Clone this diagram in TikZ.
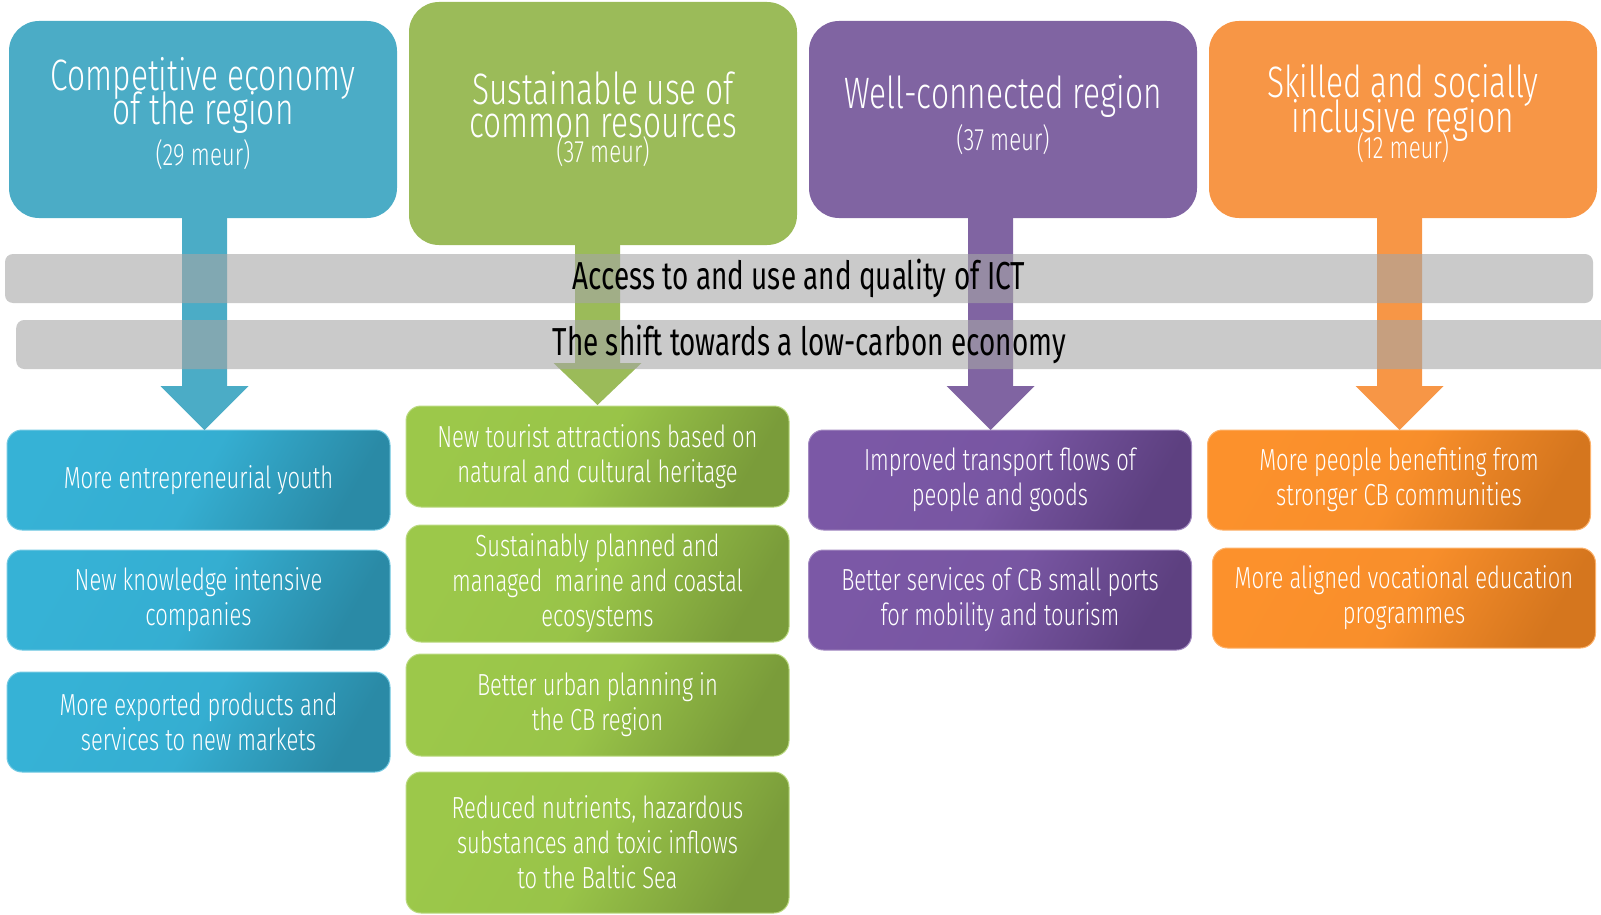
\documentclass[tikz,border=0pt]{standalone}
\usepackage{fontspec}
\setmainfont{Fira Sans Light}[FakeStretch=0.72]
\newfontfamily\bandfont{Fira Sans}[FakeStretch=0.715]
\usetikzlibrary{calc}
\definecolor{hblue}{HTML}{4BACC6}
\definecolor{hgreen}{HTML}{9BBB59}
\definecolor{hpurple}{HTML}{8064A2}
\definecolor{horange}{HTML}{F79646}
\definecolor{lblueA}{HTML}{36B2D6}
\definecolor{lblueB}{HTML}{2A8AA6}
\definecolor{lgreenA}{HTML}{9CC84A}
\definecolor{lgreenB}{HTML}{7A9C3A}
\definecolor{lpurpleA}{HTML}{7B58A6}
\definecolor{lpurpleB}{HTML}{5D4080}
\definecolor{lorangeA}{HTML}{FC912C}
\definecolor{lorangeB}{HTML}{D5761E}
\begin{document}
\begin{tikzpicture}[x=1pt,y=-1pt,
  hdr/.style={rectangle, rounded corners=30pt, inner sep=0pt, minimum width=388pt, minimum height=197pt},
  hline/.style={text=white, font=\fontsize{44}{44}\selectfont, anchor=base, inner sep=0pt, text height=24pt, text depth=0pt},
  meur/.style={text=white, font=\fontsize{31}{31}\selectfont, anchor=base, inner sep=0pt, text height=18pt, text depth=0pt},
  outbox/.style={rectangle, rounded corners=15pt, inner sep=0pt, minimum width=383pt, minimum height=100pt,
    text=white, align=center, font=\fontsize{30.5}{35}\selectfont, line width=1pt},
  ob/.style={outbox, draw=lblueA!70!white, left color=lblueA, right color=lblueB, middle color=lblueA!90!lblueB, shading angle=60},
  og/.style={outbox, draw=lgreenA!70!white, left color=lgreenA, right color=lgreenB, middle color=lgreenA!90!lgreenB, shading angle=60},
  op/.style={outbox, draw=lpurpleA!70!white, left color=lpurpleA, right color=lpurpleB, middle color=lpurpleA!90!lpurpleB, shading angle=60},
  oo/.style={outbox, draw=lorangeA!70!white, left color=lorangeA, right color=lorangeB, middle color=lorangeA!90!lorangeB, shading angle=60},
  band/.style={rectangle, rounded corners=8pt, fill=black!35, fill opacity=0.6, text opacity=1, text=black,
    inner sep=0pt, minimum height=49pt, font=\bandfont\fontsize{39}{39}\selectfont}
]
\useasboundingbox (0,0) rectangle (1601,915);

% header boxes
\node[hdr, fill=hblue] (h1) at (203,119.5) {};
\node[hdr, fill=hgreen, minimum height=243pt] (h2) at (603,123.5) {};
\node[hdr, fill=hpurple] (h3) at (1003,119.5) {};
\node[hdr, fill=horange] (h4) at (1403,119.5) {};

\node[hline] (h1a) at (203,91) {Competitive economy};
\node[hline] (h1b) at (203,125) {of the region};
\node[meur] (h1m) at (203,165) {(29 meur)};
\node[hline] (h2a) at (603,105) {Sustainable use of};
\node[hline] (h2b) at (603,138) {common resources};
\node[meur] (h2m) at (603,163) {(37 meur)};
\node[hline] (h3a) at (1003,109) {Well-connected region};
\node[meur] (h3m) at (1003,150) {(37 meur)};
\node[hline] (h4a) at (1403,98) {Skilled and socially};
\node[hline] (h4b) at (1403,132) {inclusive region};
\node[meur] (h4m) at (1403,158) {(12 meur)};

% outcome boxes
\node[ob] (b1) at (198.5,480) {More entrepreneurial youth};
\node[ob] (b2) at (198.5,600) {New knowledge intensive\\companies};
\node[ob] (b3) at (198.5,722) {More exported products and\\services to new markets};
\node[og, minimum height=101pt] (g1) at (597.5,456.5) {New tourist attractions based on\\natural and cultural heritage};
\node[og, minimum height=117pt] (g2) at (597.5,583.5) {Sustainably planned and\\managed\ \ marine and coastal\\ecosystems};
\node[og, minimum height=102pt] (g3) at (597.5,705) {Better urban planning in\\the CB region};
\node[og, minimum height=141pt] (g4) at (597.5,842.5) {Reduced nutrients, hazardous\\substances and toxic inflows\\to the Baltic Sea};
\node[op] (p1) at (1000,480) {Improved transport flows of\\people and goods};
\node[op] (p2) at (1000,600) {Better services of CB small ports\\for mobility and tourism};
\node[oo] (o1) at (1399,480) {More people benefiting from\\stronger CB communities};
\node[oo] (o2) at (1404,598) {More aligned vocational education\\programmes};

% arrow tips
\coordinate (t1) at (204.5,430);
\coordinate (t2) at (597.5,405);
\coordinate (t3) at (990.5,430);
\coordinate (t4) at (1399.5,430);

\foreach \t/\h/\c/\hh in {t1/h1/hblue/44, t2/h2/hgreen/42, t3/h3/hpurple/44, t4/h4/horange/44}{
  \fill[\c] ($(\t |- \h.south)+(-22.5,-2)$) -- ($(\t |- \h.south)+(22.5,-2)$)
    -- ($(\t)+(22.5,-\hh)$) -- ($(\t)+(44,-\hh)$) -- (\t) -- ($(\t)+(-44,-\hh)$)
    -- ($(\t)+(-22.5,-\hh)$) -- cycle;
}

% bands
\node[band, minimum width=1588pt] (band1) at (799,278.5) {Access to and use and quality of ICT};
\node[band, minimum width=1600pt, anchor=west] (band2) at (16,344.5) {\hspace*{-14pt}The shift towards a low-carbon economy};
\end{tikzpicture}
\end{document}
